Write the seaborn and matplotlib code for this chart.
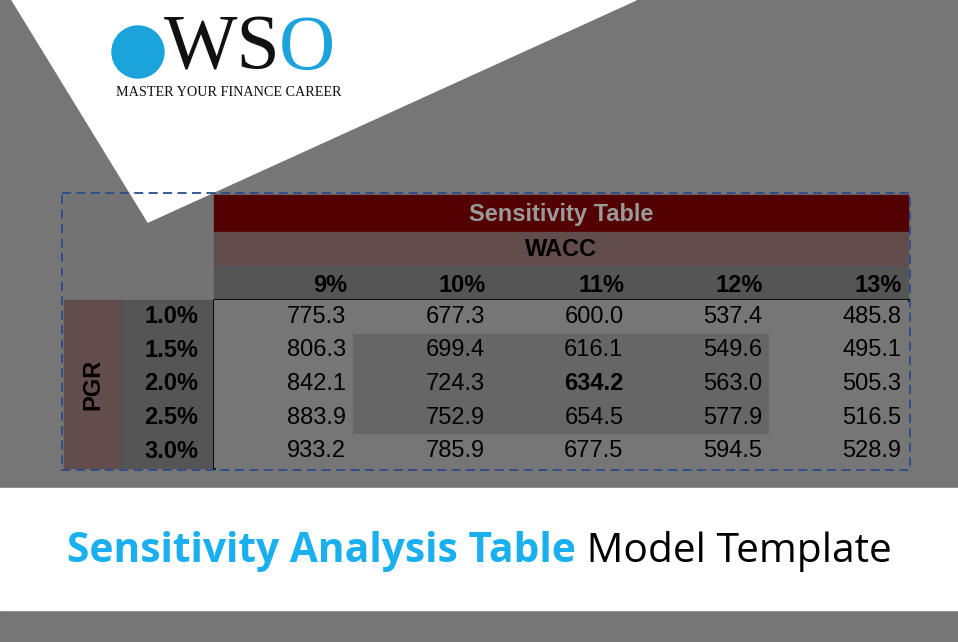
import numpy as np
import pandas as pd
import matplotlib.pyplot as plt
import matplotlib.patches as patches
from matplotlib.colors import ListedColormap
import seaborn as sns

# Data
wacc = ["9%", "10%", "11%", "12%", "13%"]
pgr = ["1.0%", "1.5%", "2.0%", "2.5%", "3.0%"]
values = [
    [775.3, 677.3, 600.0, 537.4, 485.8],
    [806.3, 699.4, 616.1, 549.6, 495.1],
    [842.1, 724.3, 634.2, 563.0, 505.3],
    [883.9, 752.9, 654.5, 577.9, 516.5],
    [933.2, 785.9, 677.5, 594.5, 528.9],
]
# inner sensitivity block highlighted
highlight = [
    [0, 0, 0, 0, 0],
    [0, 1, 1, 1, 0],
    [0, 1, 1, 1, 0],
    [0, 1, 1, 1, 0],
    [0, 0, 0, 0, 0],
]

W, H = 958, 642
fig = plt.figure(figsize=(W / 100, H / 100), dpi=100)
bg = fig.add_axes([0, 0, 1, 1])
bg.set_xlim(0, W)
bg.set_ylim(H, 0)
bg.axis("off")

GRAY = "#767676"
FS = 17
bg.add_patch(patches.Rectangle((0, 0), W, H, color=GRAY, zorder=0))
bg.add_patch(patches.Polygon([(12, 0), (636, 0), (148, 222)], color="white", zorder=4))
bg.add_patch(patches.Rectangle((0, 488), W, 122, color="white", zorder=1))

# table header blocks
x0, x1, xl = 64, 908, 214
bg.add_patch(patches.Rectangle((x0, 195), xl - x0, 105, color="#737373", zorder=2))
bg.add_patch(patches.Rectangle((xl, 195), x1 - xl, 37, color="#520000", zorder=2))
bg.add_patch(patches.Rectangle((xl, 232), x1 - xl, 34, color="#634c4c", zorder=2))
bg.add_patch(patches.Rectangle((xl, 266), x1 - xl, 34, color="#555555", zorder=2))
bg.add_patch(patches.Rectangle((x0, 300), 58, 168, color="#634c4c", zorder=2))
bg.add_patch(patches.Rectangle((122, 300), xl - 122, 168, color="#555555", zorder=2))
bg.text((xl + x1) / 2, 215, "Sensitivity Table", ha="center", va="center", fontsize=FS,
        fontweight="bold", color="#9a9a9a", family="Liberation Sans", zorder=3)
bg.text((xl + x1) / 2, 250, "WACC", ha="center", va="center", fontsize=FS,
        fontweight="bold", color="black", family="Liberation Sans", zorder=3)
bg.text(93, 384, "PGR", ha="center", va="center", rotation=90, fontsize=FS,
        fontweight="bold", color="black", family="Liberation Sans", zorder=3)

cw = (x1 - xl) / len(wacc)
for j, lab in enumerate(wacc):
    bg.text(xl + (j + 1) * cw - 6, 286, lab, ha="right", va="center", fontsize=FS,
            fontweight="bold", color="black", family="Liberation Sans", zorder=3)
rh = 168 / len(pgr)
for i, lab in enumerate(pgr):
    bg.text(198, 300 + (i + 0.5) * rh, lab, ha="right", va="center", fontsize=FS,
            fontweight="bold", color="black", family="Liberation Sans", zorder=3)

# value cells via seaborn heatmap
ax = fig.add_axes([xl / W, 1 - 468 / H, (x1 - xl) / W, 168 / H])
df = pd.DataFrame(highlight, index=pgr, columns=wacc)
sns.heatmap(df, ax=ax, cmap=ListedColormap(["#767676", "#666666"]), cbar=False,
            xticklabels=False, yticklabels=False, vmin=0, vmax=1)
for i in range(len(pgr)):
    for j in range(len(wacc)):
        ax.text(j + 0.95, i + 0.5, f"{values[i][j]:.1f}", ha="right", va="center",
                fontsize=FS, color="black", family="Liberation Sans",
                fontweight="bold" if (i, j) == (2, 2) else "normal")
ax.set_xlabel("")
ax.set_ylabel("")

# borders
bg.plot([xl, xl, x1], [468, 300, 300], color="black", lw=2, zorder=5)
bg.add_patch(patches.Rectangle((62, 193), 848, 277, fill=False, ec="#2b4b8c", lw=1.3,
                               ls=(0, (5, 3)), zorder=6))

# logo
bg.add_patch(patches.Circle((138, 52), 26, color="#1ba3dc", zorder=7))
ws = bg.text(164, 50, "WS", ha="left", va="center", fontsize=56, family="Liberation Serif",
             color="#111111", zorder=7)
fig.canvas.draw()
r = fig.canvas.get_renderer()
ws_w = ws.get_window_extent(r).width
bg.text(164 + ws_w - 2, 50, "O", ha="left", va="center", fontsize=56, family="Liberation Serif",
        color="#1ba3dc", zorder=7)
bg.text(229, 93, "MASTER YOUR FINANCE CAREER", ha="center", va="center", fontsize=10.2,
        family="Liberation Serif", color="#111111", zorder=7)

# title
t1 = bg.text(0, 0, "Sensitivity Analysis Table", fontsize=29.3, fontweight="bold",
             family="Open Sans", color="#1ab0ef")
t2 = bg.text(0, 0, " Model Template", fontsize=29.3, family="Open Sans", color="black")
fig.canvas.draw()
w1 = t1.get_window_extent(r).width
w2 = t2.get_window_extent(r).width
start = (W - w1 - w2) / 2
t1.set_position((start, 552))
t1.set_va("center")
t2.set_position((start + w1, 552))
t2.set_va("center")

fig.savefig("out.png", dpi=100)
